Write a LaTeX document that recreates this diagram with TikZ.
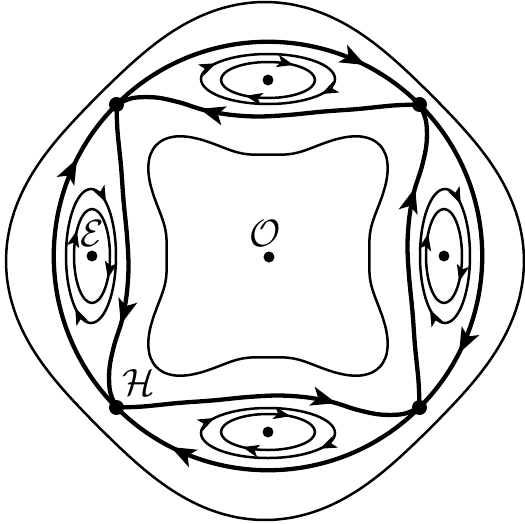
\documentclass[tikz,border=0pt]{standalone}
\usetikzlibrary{arrows.meta,decorations.markings}
\begin{document}
\begin{tikzpicture}[x=1pt,y=1pt,
  thinline/.style={line width=2.5pt},
  heavy/.style={line width=4.3pt},
  sdot/.style={circle,fill=black,inner sep=0pt,minimum size=15pt},
  cdot/.style={circle,fill=black,inner sep=0pt,minimum size=11pt},
  bigtip/.tip={Stealth[length=25pt,width=19pt,inset=6pt]},
  smalltip/.tip={Stealth[length=16.5pt,width=12.5pt,inset=4pt]},
  barrow/.style={postaction={decorate,decoration={markings,mark=at position #1 with {\arrow{bigtip}}}}},
  sarrows/.style 2 args={postaction={decorate,decoration={markings,
     mark=at position #1 with {\arrowreversed{smalltip}},
     mark=at position #2 with {\arrowreversed{smalltip}}}}},
  lab/.style={scale=3.8,inner sep=0pt}
]
\useasboundingbox (-268,-267) rectangle (257,256);
% outer thin curve
\begin{scope}[shift={(-3,-5)}]
\draw[thinline] plot[smooth cycle,domain=0:356,samples=90,variable=\t] (\t:{247+12*cos(4*\t)});
\end{scope}
% inner thin curve
\draw[thinline] plot[smooth cycle,domain=0:356,samples=90,variable=\t] (\t:{123.5-28*cos(4*\t)+6*cos(8*\t)});
% saddles and centres
\coordinate (TL) at (-151.5,151.5);
\coordinate (TR) at (151.5,151.5);
\coordinate (BL) at (-151.5,-151.5);
\coordinate (BR) at (151.5,-151.5);
\coordinate (Ct) at (0,176);
\coordinate (Cl) at (-176,0);
\coordinate (Cb) at (0,-176);
\coordinate (Cr) at (176,0);
\coordinate (Oc) at (1,-1);
\foreach \r/\a/\b/\c in {0/TL/TR/Ct, 90/BL/TL/Cl, 180/BR/BL/Cb, 270/TR/BR/Cr}{
  \begin{scope}[rotate=\r]
    \draw[heavy,barrow=0.8] (\a) arc[start angle=135,end angle=45,radius=214.25];
    \draw[heavy,barrow=0.72] plot[smooth,tension=0.55] coordinates {(\b) (125,150.5) (90,147) (56,144.5) (20,141) (-11,139.5) (-40,141.5) (-66,146.5) (-88,153.5) (-112,158.5) (-135,158) (\a)};
    \draw[thinline,sarrows={0.13}{0.645}] (\c) ellipse[x radius=47,y radius=18];
    \draw[thinline,sarrows={0.425}{0.93}] ([yshift=1pt]\c) ellipse[x radius=67,y radius=25];
  \end{scope}
}
\foreach \p in {TL,TR,BL,BR}{\node[sdot] (s\p) at (\p) {};}
\foreach \p in {Ct,Cl,Cb,Cr,Oc}{\node[cdot] (d\p) at (\p) {};}
\node[lab] (lO) at (-3,22) {$\mathcal{O}$};
\node[lab] (lE) at (-176,22) {$\mathcal{E}$};
\node[lab] (lH) at (-129,-127) {$\mathcal{H}$};
\end{tikzpicture}
\end{document}
